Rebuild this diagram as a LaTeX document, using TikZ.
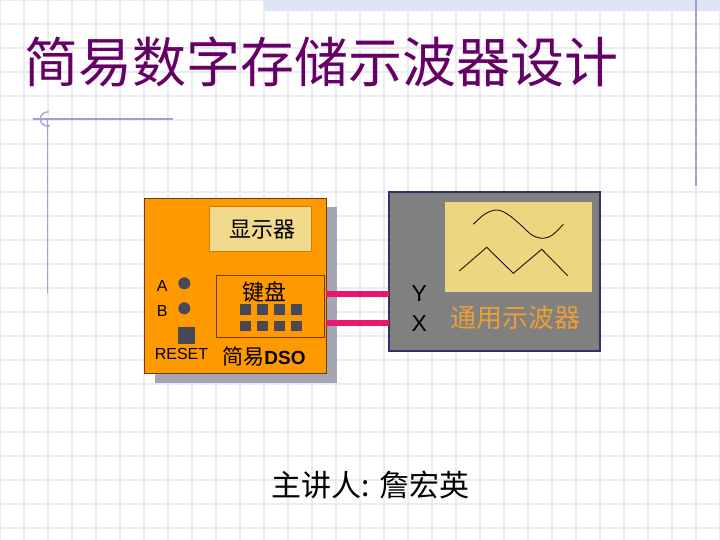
\documentclass[tikz,border=0pt]{standalone}
\usepackage{fontspec}
\setmainfont{Liberation Sans}
\newfontfamily\cjk{Noto Sans CJK SC}
\definecolor{gridc}{RGB}{234,234,243}
\definecolor{bandc}{RGB}{220,228,245}
\definecolor{decoc}{RGB}{160,160,210}
\definecolor{titlec}{RGB}{102,0,102}
\definecolor{orangec}{RGB}{255,153,0}
\definecolor{brownc}{RGB}{110,60,10}
\definecolor{tanc}{RGB}{242,218,140}
\definecolor{shadowc}{RGB}{165,165,180}
\definecolor{keyc}{RGB}{72,72,88}
\definecolor{scopec}{RGB}{128,128,128}
\definecolor{scopeb}{RGB}{50,50,100}
\definecolor{screenc}{RGB}{238,214,128}
\definecolor{wirec}{RGB}{232,22,110}
\definecolor{labelc}{RGB}{236,160,50}
\begin{document}
\begin{tikzpicture}[x=1pt,y=-1pt,
  gridline/.style={draw=gridc,line width=1.3pt},
  deco/.style={draw=decoc,line width=1.3pt},
  box/.style={anchor=north west,inner sep=0pt,outer sep=0pt},
  shadowbox/.style={box,fill=shadowc},
  devbox/.style={box,fill=orangec,draw=brownc,line width=0.8pt},
  dispbox/.style={box,fill=tanc,draw=orangec!70!brownc,line width=0.6pt},
  keybox/.style={box,fill=orangec,draw=brownc,line width=1pt},
  keysq/.style={box,fill=keyc,minimum width=10.5pt,minimum height=10.5pt},
  dot/.style={circle,fill=keyc,inner sep=0pt,minimum size=12pt},
  scopebox/.style={box,fill=scopec,draw=scopeb,line width=2pt},
  screenbox/.style={box,fill=screenc},
  wave/.style={draw=black!85!brown,line width=0.9pt},
  wire/.style={draw=wirec,line width=6pt},
  lbl/.style={inner sep=0pt,font=\fontsize{16}{18}\selectfont},
  cjklbl/.style={inner sep=0pt,font=\cjk\fontsize{22}{24}\selectfont}
]
\useasboundingbox (0,0) rectangle (720,540);
\fill[white] (0,0) rectangle (720,540);
% grid
\foreach \i in {0,24,...,720} \draw[gridline] (\i,0) -- (\i,540);
\foreach \j in {0,24,...,528} \draw[gridline] (0,\j) -- (720,\j);
% top band and decorations
\fill[bandc] (264,0) rectangle (720,11);
\draw[deco] (696,0) -- (696,186);
\draw[deco] (33,119) -- (173,119);
\draw[deco] (47.5,119) -- (47.5,293);
\draw[deco] plot[domain=-80:-290,samples=40,smooth] ({47.5+7*cos(\x)},{119+7*sin(\x)});
% title
\node[inner sep=0pt,text=titlec,font=\cjk\fontsize{54}{60}\selectfont] (title) at (321.5,62) {简易数字存储示波器设计};
% simple DSO
\node[shadowbox,minimum width=182pt,minimum height=175pt] (shd) at (154.5,207.5) {};
\node[devbox,minimum width=182pt,minimum height=175pt] (dso) at (144,198.3) {};
\node[dispbox,minimum width=102.7pt,minimum height=45pt,font=\cjk\fontsize{22}{24}\selectfont] (disp) at (209,206.7) {\hspace*{5pt}显示器};
\node[keybox,minimum width=107.6pt,minimum height=61.6pt] (kb) at (216.7,275.7) {};
\node[cjklbl] (kbl) at (264.5,292) {键盘};
\foreach \r/\yy in {1/304,2/320.7}{
  \foreach \c/\xx in {1/240,2/257,3/274,4/291}{
    \node[keysq] (k\r\c) at (\xx,\yy) {};
  }
}
\node[lbl] (la) at (162.3,286) {A};
\node[lbl] (lb) at (162.3,311) {B};
\node[dot] (da) at (184.3,283.3) {};
\node[dot] (db) at (184.3,308.3) {};
\node[keysq,minimum width=17pt,minimum height=17pt] (rst) at (178,326.7) {};
\node[lbl] (rstl) at (181.5,353.5) {RESET};
\node[inner sep=0pt] (dsol) at (264,357) {{\cjk\fontsize{21}{24}\selectfont 简易}{\fontsize{19}{22}\selectfont\bfseries DSO}};
% oscilloscope
\node[scopebox,minimum width=210.7pt,minimum height=159pt] (scope) at (389.3,191.7) {};
\node[screenbox,minimum width=146.7pt,minimum height=89.4pt] (scr) at (445,202.3) {};
\draw[wave] plot[smooth,tension=0.6] coordinates {(473.3,224.3) (485,214) (496.7,210) (508,214.5) (520,224.3) (532,235) (543.3,238.3) (553,234.5) (563.3,224.3)};
\draw[wave] (459.3,271) -- (486.7,247.3) -- (513.3,273.3) -- (541.7,249.3) -- (567.7,275.7);
\node[inner sep=0pt,font=\fontsize{23}{26}\selectfont] (ly) at (419.3,293.5) {Y};
\node[inner sep=0pt,font=\fontsize{23}{26}\selectfont] (lx) at (419.3,323.5) {X};
\node[inner sep=0pt,text=labelc,font=\cjk\fontsize{26}{28}\selectfont] (gl) at (515.8,317.3) {通用示波器};
% wires
\coordinate (yin) at (389.3,293.5);
\coordinate (xin) at (389.3,323.3);
\draw[wire] (dso.east |- yin) -- (scope.west |- yin);
\draw[wire] (dso.east |- xin) -- (scope.west |- xin);
% presenter
\node[inner sep=0pt,font=\cjk\fontsize{30}{34}\selectfont] (pres) at (370.5,485) {主讲人: 詹宏英};
\end{tikzpicture}
\end{document}
